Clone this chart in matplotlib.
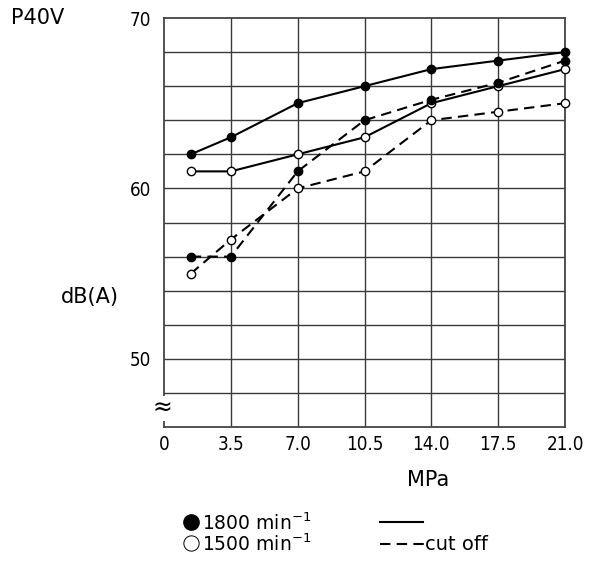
import numpy as np
import matplotlib.pyplot as plt
from matplotlib.lines import Line2D

# pressure (MPa) and noise level dB(A)
pressure = [1.4, 3.5, 7.0, 10.5, 14.0, 17.5, 21.0]
db_1800 = [62, 63, 65, 66, 67, 67.5, 68]
db_1500 = [61, 61, 62, 63, 65, 66, 67]
db_1800_cut = [56, 56, 61, 64, 65.2, 66.2, 67.5]
db_1500_cut = [55, 57, 60, 61, 64, 64.5, 65]

xticks = [0, 3.5, 7.0, 10.5, 14.0, 17.5, 21.0]
xticklabels = ["0", "3.5", "7.0", "10.5", "14.0", "17.5", "21.0"]
yticks = [50, 60, 70]

txt_font = ['DejaVu Sans']

fig = plt.figure(figsize=(5.93, 5.65), dpi=100)
ax = fig.add_axes([164 / 593, 1 - 427 / 565, 401 / 593, 409 / 565])

ax.set_xlim(0, 21)
ax.set_ylim(46, 70)

# grid
for x in xticks[1:]:
    ax.axvline(x, color='#3a3a3a', lw=1.0, zorder=1)
for y in np.arange(48, 70, 2):
    ax.axhline(y, color='#3a3a3a', lw=1.0, zorder=1)
for s in ax.spines.values():
    s.set_color('#444444')
    s.set_linewidth(1.3)

mk = dict(marker='o', markersize=6, markeredgecolor='black', markeredgewidth=1.0, zorder=3, clip_on=False)
dash = (0, (5, 3))
ax.plot(pressure, db_1800, color='black', lw=1.5, markerfacecolor='black', **mk)
ax.plot(pressure, db_1500, color='black', lw=1.5, markerfacecolor='white', **mk)
ax.plot(pressure, db_1800_cut, color='black', lw=1.5, linestyle=dash, markerfacecolor='black', **mk)
ax.plot(pressure, db_1500_cut, color='black', lw=1.5, linestyle=dash, markerfacecolor='white', **mk)

ax.set_xticks(xticks)
ax.set_xticklabels(xticklabels, family='DejaVu Sans', fontstretch='condensed', fontsize=13.5)
ax.set_yticks(yticks)
ax.set_yticklabels([str(v) for v in yticks], family='DejaVu Sans', fontstretch='condensed', fontsize=13.5)
ax.tick_params(length=0, pad=6)
ax.tick_params(axis='y', pad=9)

ax.text(-0.1, 47.1, "≈", ha='center', va='center', fontsize=17, family=txt_font,
        bbox=dict(facecolor='white', edgecolor='none', pad=0.3), zorder=4)

fig.text(11 / 593, 1 - 18 / 565, "P40V", fontsize=15, family=txt_font, va='center', ha='left')
fig.text(90 / 593, 1 - 297 / 565, "dB(A)", fontsize=15, family=txt_font, va='center', ha='center')
fig.text(428 / 593, 1 - 480 / 565, "MPa", fontsize=15, family=txt_font, va='center', ha='center')

# legend block
fig.add_artist(Line2D([191 / 593], [1 - 522 / 565], marker='o', markersize=11,
                      markerfacecolor='black', markeredgecolor='black', lw=0))
fig.add_artist(Line2D([191 / 593], [1 - 543 / 565], marker='o', markersize=11,
                      markerfacecolor='white', markeredgecolor='black', markeredgewidth=0.7, lw=0))
fig.text(202 / 593, 1 - 523 / 565, "1800 min$^{-1}$", fontsize=13.5, family=txt_font, va='center')
fig.text(202 / 593, 1 - 544 / 565, "1500 min$^{-1}$", fontsize=13.5, family=txt_font, va='center')
fig.add_artist(Line2D([380 / 593, 423 / 593], [1 - 522 / 565] * 2, color='black', lw=1.5))
fig.add_artist(Line2D([380 / 593, 424 / 593], [1 - 544 / 565] * 2, color='black', lw=1.5, linestyle=(0, (5, 3))))
fig.text(425 / 593, 1 - 544 / 565, "cut off", fontsize=14, family=txt_font, va='center')

fig.savefig("out.png", dpi=100)
